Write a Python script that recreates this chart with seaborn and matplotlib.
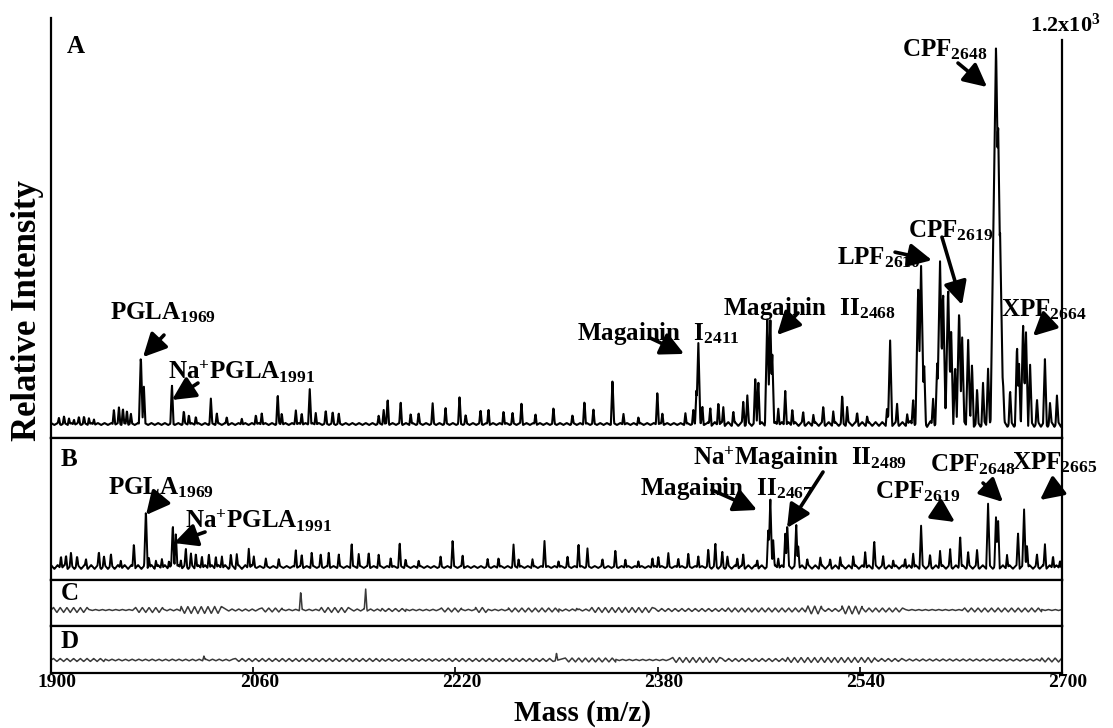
import numpy as np
import pandas as pd
import seaborn as sns
import matplotlib.pyplot as plt
from matplotlib.transforms import ScaledTranslation

# ---- panel A: peak masses (m/z) and intensities (counts) ----
a_mass = [1906.3, 1910.3, 1914.2, 1918.2, 1922.1, 1926.1, 1930.0, 1934.0,
          1949.8, 1953.8, 1956.9, 1960.1, 1963.2, 1971.1, 1973.5, 1995.7,
          2005.1, 2009.1, 2014.6, 2026.5, 2031.2, 2039.1, 2051.0, 2062.1,
          2066.8, 2079.4, 2082.6, 2093.7, 2098.4, 2104.7, 2109.5, 2117.4,
          2122.9, 2127.7, 2159.3, 2163.2, 2166.4, 2176.7, 2184.6, 2190.9,
          2202.0, 2212.2, 2223.3, 2228.1, 2239.9, 2246.2, 2258.1, 2265.2,
          2272.3, 2283.4, 2297.6, 2312.6, 2322.1, 2329.2, 2344.3, 2353.0,
          2364.8, 2379.8, 2383.8, 2402.0, 2408.3, 2410.8, 2412.2, 2415.4,
          2421.7, 2428.1, 2432.0, 2439.9, 2447.8, 2451.0, 2457.3, 2459.7,
          2466.8, 2469.2, 2470.7, 2475.5, 2481.0, 2486.6, 2495.2, 2503.2,
          2511.1, 2519.0, 2526.1, 2530.0, 2537.9, 2545.8, 2561.6, 2564.0,
          2569.5, 2577.5, 2582.2, 2586.2, 2588.5, 2590.9, 2598.0, 2601.2,
          2603.5, 2605.9, 2609.9, 2612.3, 2615.4, 2618.6, 2621.0, 2625.7,
          2628.8, 2632.8, 2637.5, 2641.5, 2644.7, 2647.8, 2649.4, 2651.0,
          2653.3, 2658.9, 2664.4, 2666.0, 2669.2, 2671.5, 2674.7, 2680.2,
          2686.5, 2690.5, 2696.0]
a_int = [19, 22, 19, 16, 22, 22, 19, 16,
         47, 53, 50, 44, 31, 218, 115, 122,
         41, 31, 25, 78, 34, 22, 19, 31,
         37, 94, 37, 47, 37, 115, 37, 41,
         37, 31, 25, 47, 81, 69, 34, 34,
         62, 50, 84, 28, 44, 47, 44, 34,
         66, 34, 50, 28, 75, 44, 137, 34,
         22, 103, 34, 34, 44, 110, 262, 59,
         53, 75, 53, 41, 72, 87, 140, 140,
         334, 334, 228, 53, 109, 53, 37, 31,
         56, 41, 87, 53, 37, 25, 53, 259,
         62, 31, 84, 427, 499, 187, 84, 187,
         515, 415, 437, 290, 187, 359, 271, 275,
         187, 103, 125, 178, 125, 1186, 945, 602,
         134, 103, 243, 187, 312, 287, 187, 72,
         197, 62, 84]

# ---- panel B ----
b_mass = [1907.9, 1911.9, 1915.8, 1920.6, 1927.7, 1937.9, 1941.9, 1947.4,
          1955.3, 1965.6, 1975.1, 1977.5, 1983.0, 1987.7, 1993.3, 1996.4,
          1998.8, 2002.8, 2006.7, 2010.7, 2014.6, 2019.4, 2024.9, 2030.4,
          2035.2, 2042.3, 2047.0, 2056.5, 2060.5, 2070.0, 2080.2, 2093.7,
          2098.4, 2106.3, 2113.4, 2119.8, 2127.7, 2137.9, 2143.5, 2151.4,
          2159.3, 2168.8, 2175.9, 2180.6, 2190.9, 2208.3, 2217.8, 2225.7,
          2245.5, 2254.1, 2266.0, 2270.0, 2281.0, 2290.5, 2301.6, 2308.7,
          2317.4, 2324.5, 2336.4, 2346.6, 2354.5, 2364.8, 2375.9, 2380.6,
          2388.5, 2396.4, 2404.3, 2412.2, 2420.1, 2425.7, 2431.2, 2435.2,
          2443.1, 2447.8, 2458.9, 2467.6, 2469.2, 2471.5, 2475.5, 2481.0,
          2482.6, 2489.7, 2491.3, 2498.4, 2508.7, 2516.6, 2524.5, 2534.8,
          2544.3, 2551.4, 2558.5, 2566.4, 2575.9, 2582.2, 2588.5, 2595.6,
          2603.5, 2611.5, 2619.4, 2625.7, 2632.8, 2641.5, 2647.8, 2649.4,
          2656.5, 2665.2, 2670.0, 2672.3, 2680.2, 2686.5, 2692.9, 2698.4]
b_int = [13, 12, 13, 10, 8, 15, 10, 12,
         8, 25, 57, 10, 7, 10, 7, 43,
         35, 8, 18, 13, 15, 13, 15, 12,
         13, 12, 13, 20, 10, 8, 8, 18,
         13, 15, 13, 15, 13, 25, 13, 15,
         13, 10, 25, 8, 7, 10, 27, 12,
         7, 10, 22, 8, 8, 27, 7, 10,
         25, 18, 8, 17, 8, 7, 10, 12,
         13, 10, 13, 12, 17, 23, 15, 10,
         10, 13, 8, 38, 70, 27, 10, 35,
         43, 43, 23, 8, 10, 8, 10, 12,
         17, 27, 10, 8, 10, 15, 41, 12,
         17, 17, 33, 15, 17, 63, 50, 50,
         13, 35, 57, 23, 12, 23, 13, 8]

# ---- panels C and D: isolated spikes ----
c_mass = [2097.6, 2149.0, 2316.0]
c_int = [19, 21, 2]
d_mass = [2021.0, 2300.0]
d_int = [4, 7]

# baseline ripple: (from m/z, to m/z, half amplitude)
a_noise = [(1900, 2420, 3), (2420, 2580, 6), (2580, 2700, 9)]
b_noise = [(1900, 2060, 2.0), (2060, 2420, 1.0), (2420, 2700, 1.8)]
c_noise = [(1902, 1930, 2.5), (1930, 1966, 0.5), (1967, 1989, 2.5), (1989, 2003, 0.8),
           (2003, 2037, 3.5), (2038, 2067, 1.0), (2067, 2083, 2.0), (2083, 2114, 0.7),
           (2114, 2137, 2.5), (2137, 2162, 1.0), (2162, 2181, 1.5), (2181, 2209, 0.7),
           (2209, 2225, 2.0), (2225, 2236, 0.7), (2236, 2246, 2.5), (2246, 2262, 0.7),
           (2262, 2302, 2.0), (2302, 2328, 1.0), (2328, 2378, 2.5), (2378, 2436, 1.5),
           (2436, 2499, 2.0), (2499, 2510, 4.0), (2510, 2526, 1.5), (2526, 2542, 4.0),
           (2542, 2576, 2.0), (2576, 2623, 0.5), (2623, 2684, 2.0), (2684, 2700, 0.5)]
d_noise = [(1902, 1943, 1.5), (1943, 2046, 0.8), (2046, 2162, 1.5), (2162, 2215, 1.2),
           (2215, 2299, 1.5), (2307, 2347, 2.0), (2347, 2392, 0.6), (2392, 2431, 2.5),
           (2431, 2483, 1.5), (2483, 2552, 2.5), (2552, 2574, 1.5), (2574, 2684, 1.0),
           (2684, 2700, 2.0)]

ticks = [1900, 2060, 2220, 2380, 2540, 2700]


def trace(mass, inten, noise, px):
    # px = intensity units per pixel, used to keep peak widths in pixels
    grid = np.arange(1900, 2700.01, 0.25)
    zx, zy = [1900.0], [0.0]
    for m0, m1, amp in noise:
        for i, m in enumerate(np.arange(m0, m1, 2.65)):
            zx.append(m)
            zy.append(amp if i % 2 == 0 else -amp)
    zx.append(2700.0)
    zy.append(0.0)
    y = np.interp(grid, zx, zy)
    peaks = np.zeros_like(grid)
    for m, h in zip(mass, inten):
        w = 0.9 + 0.009 * h / px
        tri = h * np.clip(1 - np.abs(grid - m) / w, 0, None)
        peaks = np.maximum(peaks, tri)
    return pd.DataFrame({'mz': grid, 'y': y + peaks})


sns.set_theme(style='white')
plt.rcParams['font.family'] = ['Liberation Serif', 'DejaVu Serif']
plt.rcParams['font.weight'] = 'bold'
plt.rcParams['text.color'] = 'black'
plt.rcParams['xtick.color'] = 'black'
plt.rcParams['axes.labelcolor'] = 'black'
plt.rcParams['mathtext.fontset'] = 'custom'
plt.rcParams['mathtext.bf'] = 'Liberation Serif:bold'
plt.rcParams['mathtext.rm'] = 'Liberation Serif:bold'
plt.rcParams['mathtext.it'] = 'Liberation Serif:bold'

fig = plt.figure(figsize=(11.13, 7.28), dpi=100)
L, W = 51 / 1113, 1011 / 1113
axA = fig.add_axes([L, 290 / 728, W, 420 / 728])
axB = fig.add_axes([L, 148 / 728, W, 142 / 728])
axC = fig.add_axes([L, 102 / 728, W, 46 / 728])
axD = fig.add_axes([L, 55 / 728, W, 47 / 728])

panels = [(axA, a_mass, a_int, a_noise, 3.125, (-43.75, 1268.75), 1.5, 'black'),
          (axB, b_mass, b_int, b_noise, 1, (-13, 129), 1.4, 'black'),
          (axC, c_mass, c_int, c_noise, 1, (-16, 30), 1.1, '#3a3a3a'),
          (axD, d_mass, d_int, d_noise, 1, (-13, 34), 1.1, '#3a3a3a')]

for ax, mass, inten, noise, px, ylim, lw, col in panels:
    df = trace(mass, inten, noise, px)
    sns.lineplot(data=df, x='mz', y='y', ax=ax, color=col, lw=lw,
                 estimator=None, sort=False)
    ax.set_xlim(1900, 2700)
    ax.set_ylim(*ylim)
    ax.set_xlabel('')
    ax.set_ylabel('')
    ax.set_yticks([])
    ax.set_xticks([])
    for s in ax.spines.values():
        s.set_color('black')
        s.set_linewidth(1.6)

axA.spines['top'].set_visible(False)
axA.spines['right'].set_bounds(-43.75, 1200)

axD.set_xticks(ticks)
axD.set_xticklabels([str(t) for t in ticks], fontsize=14, fontweight='bold')
axD.tick_params(axis='x', direction='in', length=4, width=1.2, pad=0.5, bottom=True,
                colors='black')
shift = ScaledTranslation(6 / 100, 0, fig.dpi_scale_trans)
for t in axD.get_xticklabels():
    t.set_transform(t.get_transform() + shift)


def lab(name, num):
    return r'$\mathbf{' + name + '_{' + num + '}}$'


# annotations: axes, text, text anchor (left, middle), arrow tail, arrow head
notes = [
    (axA, lab('PGLA', '1969'), (1946.7, 347), (1989.4, 278), (1972.8, 209)),
    (axA, lab('Na^{+}PGLA', '1991'), (1992.6, 162), (2016.3, 128), (1995.7, 75)),
    (axA, lab(r'Magainin\ \ I', '2411'), (2316.2, 284), (2374, 269), (2401, 219)),
    (axA, lab(r'Magainin\ \ II', '2468'), (2431.8, 362), (2491.1, 347), (2474.5, 278)),
    (axA, lab('LPF', '2610'), (2522, 519), (2567.9, 537), (2597.1, 512)),
    (axA, lab('CPF', '2619'), (2578.1, 603), (2605, 584), (2620.9, 372)),
    (axA, lab('CPF', '2648'), (2573.4, 1169), (2617.7, 1128), (2640.7, 1053)),
    (axA, lab('XPF', '2664'), (2651.7, 356), (2688.9, 319), (2677, 275)),
    (axB, lab('PGLA', '1969'), (1945.1, 79), (1987, 70), (1975.2, 52)),
    (axB, lab('Na^{+}PGLA', '1991'), (2006, 46), (2021.9, 35), (1997.3, 24)),
    (axB, lab(r'Magainin\ \ II', '2467'), (2366.1, 79), (2423, 77), (2458.7, 57)),
    (axB, lab(r'Na^{+}Magainin\ \ II', '2489'), (2408, 109), (2510.9, 95), (2482.4, 39)),
    (axB, lab('CPF', '2619'), (2552, 75), (2603.5, 55), (2615.3, 45)),
    (axB, lab('CPF', '2648'), (2595.6, 102), (2637.5, 84), (2653.3, 65)),
    (axB, lab('XPF', '2665'), (2660.4, 104), (2696, 80), (2682.6, 67)),
]
for ax, txt, pos, tail, head in notes:
    ax.text(pos[0], pos[1], txt, fontsize=18, ha='left', va='center', zorder=5,
            color='black')
    ax.annotate('', xy=head, xytext=tail,
                arrowprops=dict(arrowstyle='-|>,head_length=0.7,head_width=0.35',
                                mutation_scale=20, lw=2.6, color='black',
                                shrinkA=0, shrinkB=0), annotation_clip=False)

axA.text(1912.7, 1181, 'A', fontsize=18, fontweight='bold', ha='left', va='center')
axB.text(1907.9, 108, 'B', fontsize=18, fontweight='bold', ha='left', va='center')
axC.text(1907.9, 16, 'C', fontsize=18, fontweight='bold', ha='left', va='center')
axD.text(1907.9, 19, 'D', fontsize=18, fontweight='bold', ha='left', va='center')
axA.text(2674.7, 1247, r'$\mathbf{1.2x10^{3}}$', fontsize=16, ha='left', va='center',
         clip_on=False)

fig.text(28 / 1113, 1 - 310 / 728, 'Relative Intensity', rotation=90, ha='center',
         va='center', fontsize=25, fontweight='bold')
fig.text(582 / 1113, 1 - 721 / 728, 'Mass (m/z)', ha='center', va='baseline',
         fontsize=21, fontweight='bold')

fig.savefig('out.png', dpi=100)
